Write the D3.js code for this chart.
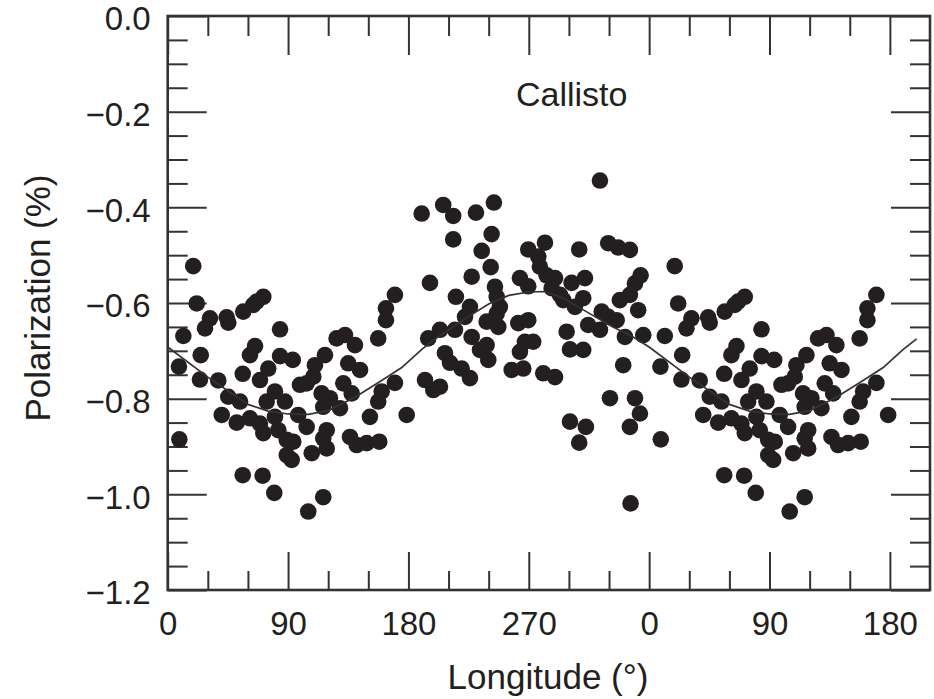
<!DOCTYPE html>
<html>
<head>
<meta charset="utf-8">
<script src="https://cdn.jsdelivr.net/npm/d3@7"></script>
<style>
  body { margin: 0; background: #fff; }
  svg text { font-family: "Liberation Sans", Arial, Helvetica, sans-serif; fill: #231f20; }
</style>
</head>
<body>
<div id="chart"></div>
<script>
// Callisto polarization vs longitude (0-360 deg)
const lon = [
  19.1, 21.7, 31.6, 27.9, 11.7, 44.1, 45.3, 56.5, 64.0, 66.5,
  71.5, 84.0, 65.3, 61.5, 24.7, 8.4, 24.1, 37.8, 56.1, 69.0,
  75.2, 84.0, 93.5, 45.3, 54.1, 40.4, 51.6, 61.5, 69.0, 71.5,
  74.0, 80.2, 87.7, 80.2, 82.7, 89.0, 93.9, 89.0, 92.7, 97.6,
  103.9, 98.9, 103.9, 110.1, 117.6, 108.9, 115.1, 116.3, 121.3, 128.8,
  118.9, 116.3, 118.9, 107.7, 126.3, 132.6, 140.0, 135.0, 143.8, 131.3,
  137.6, 136.3, 141.3, 148.8, 158.2, 151.2, 157.4, 160.0, 169.9, 157.4,
  163.2, 163.2, 169.9, 178.7, 8.7, 56.1, 71.0, 79.7, 105.1, 116.3,
  189.9, 206.0, 213.5, 230.5, 243.9, 213.5, 242.2, 234.8, 241.5, 227.3,
  196.1, 215.5, 269.6, 282.1, 277.1, 307.7, 329.4, 336.9, 345.6, 263.4,
  269.6, 278.3, 283.3, 289.6, 287.1, 293.3, 295.8, 302.0, 312.0, 244.7,
  246.0, 248.4, 246.0, 238.5, 247.2, 226.0, 222.3, 214.8, 203.6, 194.8,
  227.3, 207.3, 211.1, 219.8, 226.0, 192.4, 198.6, 203.6, 233.5, 239.7,
  238.5, 262.1, 269.6, 267.1, 273.3, 263.4, 257.2, 265.9, 280.8, 289.6,
  298.3, 300.8, 310.7, 304.5, 310.7, 314.4, 323.2, 324.5, 329.4, 335.7,
  341.9, 338.1, 345.6, 349.4, 353.6, 351.8, 355.6, 340.6, 330.7, 349.4,
  353.1, 345.6, 300.8, 312.7, 307.7, 346.1, 323.2
];
const pol = [
  -0.523, -0.601, -0.632, -0.653, -0.669, -0.630, -0.641, -0.618, -0.604, -0.597,
  -0.587, -0.655, -0.690, -0.709, -0.709, -0.733, -0.760, -0.762, -0.748, -0.761,
  -0.737, -0.711, -0.719, -0.796, -0.806, -0.834, -0.850, -0.841, -0.852, -0.872,
  -0.806, -0.785, -0.806, -0.838, -0.866, -0.886, -0.890, -0.918, -0.928, -0.834,
  -0.859, -0.771, -0.768, -0.730, -0.709, -0.754, -0.789, -0.817, -0.799, -0.820,
  -0.866, -0.883, -0.904, -0.914, -0.674, -0.667, -0.688, -0.726, -0.740, -0.768,
  -0.789, -0.880, -0.897, -0.893, -0.890, -0.838, -0.806, -0.785, -0.767, -0.674,
  -0.636, -0.611, -0.583, -0.834, -0.885, -0.960, -0.961, -0.997, -1.036, -1.006,
  -0.413, -0.395, -0.418, -0.411, -0.390, -0.467, -0.456, -0.491, -0.525, -0.545,
  -0.558, -0.587, -0.488, -0.474, -0.503, -0.488, -0.475, -0.484, -0.489, -0.548,
  -0.565, -0.524, -0.542, -0.548, -0.569, -0.583, -0.594, -0.558, -0.548, -0.566,
  -0.587, -0.608, -0.622, -0.639, -0.650, -0.608, -0.629, -0.656, -0.656, -0.674,
  -0.671, -0.705, -0.725, -0.737, -0.757, -0.761, -0.782, -0.775, -0.698, -0.719,
  -0.688, -0.642, -0.636, -0.681, -0.681, -0.702, -0.740, -0.737, -0.747, -0.755,
  -0.660, -0.697, -0.698, -0.608, -0.590, -0.646, -0.656, -0.618, -0.629, -0.636,
  -0.671, -0.594, -0.583, -0.559, -0.542, -0.615, -0.667, -0.730, -0.799, -0.799,
  -0.831, -0.859, -0.848, -0.859, -0.892, -1.019, -0.344
];

// fitted curve
const lineLon = [0, 30, 60, 75, 90, 105, 120, 140, 160, 175, 190, 200, 225, 240, 255, 270, 282, 296, 313, 333, 348, 360];
const linePol = [-0.692, -0.755, -0.812, -0.826, -0.832, -0.833, -0.825, -0.797, -0.762, -0.735, -0.697, -0.675, -0.628, -0.602, -0.584, -0.577, -0.576, -0.590, -0.618, -0.650, -0.671, -0.692];

const xMajor = [0, 90, 180, 270, 360, 450, 540];
const xMinor = [30, 60, 120, 150, 210, 240, 300, 330, 390, 420, 480, 510];
const yMajor = [0, -0.2, -0.4, -0.6, -0.8, -1.0, -1.2];
const yMinor = d3.range(0, 25).map(i => -i * 0.05).filter(v => Math.abs((v / 0.2) - Math.round(v / 0.2)) > 1e-6);

const title = 'Callisto';
const xTitle = 'Longitude (°)';
const yTitle = 'Polarization (%)';

// the figure repeats the first half of the rotation after 360
const pointsRepeatTo = 180;
const lineRepeatTo = 200;

const width = 934, height = 699;
const margin = { top: 16, right: 4, bottom: 109, left: 167.7 };

const svg = d3.select('#chart').append('svg')
    .attr('width', width)
    .attr('height', height);

const x = d3.scaleLinear().domain([0, 570]).range([margin.left, width - margin.right]);
const y = d3.scaleLinear().domain([0, -1.2]).range([margin.top, height - margin.bottom]);

const plotW = x.range()[1] - x.range()[0];
const plotH = y.range()[1] - y.range()[0];

// build point list, with the repeated copy
let points = lon.map((d, i) => ({ lon: d, pol: pol[i] }));
points = points.concat(points.filter(p => p.lon <= pointsRepeatTo).map(p => ({ lon: p.lon + 360, pol: p.pol })));

let curve = lineLon.map((d, i) => ({ lon: d, pol: linePol[i] }));
curve = curve.concat(curve.filter(p => p.lon > 0 && p.lon <= lineRepeatTo).map(p => ({ lon: p.lon + 360, pol: p.pol })));

// axes: ticks pointing inward on all four sides
const axisColor = '#333';
const fmtX = d => String(d % 360);
const fmtY = d => d === 0 ? '0.0' : d3.format('.1f')(d);

function styleAxis(g) {
    g.select('.domain').remove();
    g.selectAll('line').attr('stroke', axisColor).attr('stroke-width', 2);
    g.selectAll('text').style('font-size', '33px').attr('fill', '#231f20');
}

const bottomY = y.range()[1], topY = y.range()[0];
const leftX = x.range()[0], rightX = x.range()[1];

svg.append('g').attr('transform', `translate(0,${bottomY})`)
    .call(d3.axisBottom(x).tickValues(xMajor).tickSize(-38).tickPadding(22).tickFormat(fmtX))
    .call(styleAxis);
svg.append('g').attr('transform', `translate(0,${bottomY})`)
    .call(d3.axisBottom(x).tickValues(xMinor).tickSize(-19).tickFormat(''))
    .call(styleAxis);
svg.append('g').attr('transform', `translate(0,${topY})`)
    .call(d3.axisTop(x).tickValues(xMajor).tickSize(-39).tickFormat(''))
    .call(styleAxis);
svg.append('g').attr('transform', `translate(0,${topY})`)
    .call(d3.axisTop(x).tickValues(xMinor).tickSize(-20).tickFormat(''))
    .call(styleAxis);

svg.append('g').attr('transform', `translate(${leftX},0)`)
    .call(d3.axisLeft(y).tickValues(yMajor).tickSize(-39).tickPadding(17).tickFormat(fmtY))
    .call(styleAxis)
    .call(g => g.selectAll('text').attr('dy', '0.42em'));
svg.append('g').attr('transform', `translate(${leftX},0)`)
    .call(d3.axisLeft(y).tickValues(yMinor).tickSize(-20).tickFormat(''))
    .call(styleAxis);
svg.append('g').attr('transform', `translate(${rightX},0)`)
    .call(d3.axisRight(y).tickValues(yMajor).tickSize(-39).tickFormat(''))
    .call(styleAxis);
svg.append('g').attr('transform', `translate(${rightX},0)`)
    .call(d3.axisRight(y).tickValues(yMinor).tickSize(-20).tickFormat(''))
    .call(styleAxis);

// frame
svg.append('rect')
    .attr('x', leftX).attr('y', topY)
    .attr('width', plotW).attr('height', plotH)
    .attr('fill', 'none')
    .attr('stroke', axisColor)
    .attr('stroke-width', 2.6);

// data points
svg.append('g')
    .selectAll('circle')
    .data(points)
    .join('circle')
    .attr('cx', d => x(d.lon))
    .attr('cy', d => y(d.pol))
    .attr('r', 8.3)
    .attr('fill', '#231f20');

// curve
svg.append('path')
    .datum(curve)
    .attr('fill', 'none')
    .attr('stroke', '#333')
    .attr('stroke-width', 1.7)
    .attr('d', d3.line().x(d => x(d.lon)).y(d => y(d.pol)));

// labels
svg.append('text')
    .attr('x', 516).attr('y', 106)
    .style('font-size', '34px')
    .text(title);

svg.append('text')
    .attr('x', 548).attr('y', 689)
    .attr('text-anchor', 'middle')
    .style('font-size', '35px')
    .text(xTitle);

svg.append('text')
    .attr('transform', `translate(50,298) rotate(-90)`)
    .attr('text-anchor', 'middle')
    .style('font-size', '35px')
    .text(yTitle);
</script>
</body>
</html>
